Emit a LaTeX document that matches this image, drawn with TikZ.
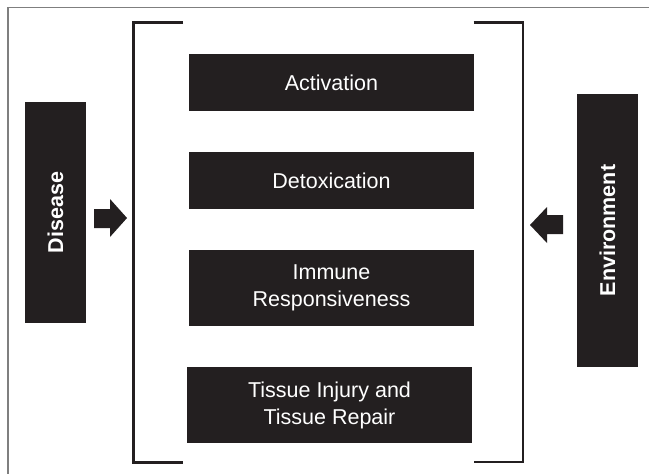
\documentclass[tikz,border=0pt]{standalone}
\usepackage{fontspec}
\setmainfont{Liberation Sans}
\definecolor{boxfill}{HTML}{231F20}
\definecolor{framegray}{HTML}{7F7F7F}
\begin{document}
\begin{tikzpicture}[x=1pt,y=-1pt,
  darkbox/.style={fill=boxfill, draw=none, inner sep=0pt, text=white, align=center,
    font=\fontsize{21.5}{27}\selectfont},
  sidebox/.style={darkbox, rotate=90, font=\fontsize{21.5}{27}\selectfont\bfseries},
  bracketline/.style={draw=boxfill, line width=2.4pt},
  blockarrow/.style={fill=boxfill, draw=none}]
\useasboundingbox (0,0) rectangle (649,474);
\fill[white] (0,0) rectangle (649,474);
% frame
\draw[framegray, line width=1.5pt] (8,474) -- (8,7.5) -- (649,7.5);
% brackets
\draw[bracketline] (183,22.5) -- (133.5,22.5) -- (133.5,462.5) -- (183,462.5);
\draw[bracketline] (473.5,22.5) -- (523,22.5) -- (523,462) -- (474,462);
% boxes
\node[darkbox, minimum width=285pt, minimum height=57pt] (act) at (331.5,82.5) {Activation};
\node[darkbox, minimum width=285pt, minimum height=57pt] (det) at (331.5,180.5) {Detoxication};
\node[darkbox, minimum width=285pt, minimum height=76pt] (imm) at (331.5,288) {Immune\\Responsiveness};
\node[darkbox, minimum width=285pt, minimum height=76pt] (tis) at (329.5,405) {Tissue Injury and\\Tissue Repair};
\node[sidebox, minimum width=221pt, minimum height=61pt] (dis) at (55.5,212.5) {Disease};
\node[sidebox, minimum width=273pt, minimum height=61pt] (env) at (607.5,230.5) {Environment};
% block arrows
\fill[blockarrow] (94,209) -- (110,209) -- (110,199) -- (127,218) -- (110,237) -- (110,228) -- (94,228) -- cycle;
\fill[blockarrow] (563,215) -- (547,215) -- (547,207) -- (530,225) -- (547,243) -- (547,234) -- (563,234) -- cycle;
\end{tikzpicture}
\end{document}
